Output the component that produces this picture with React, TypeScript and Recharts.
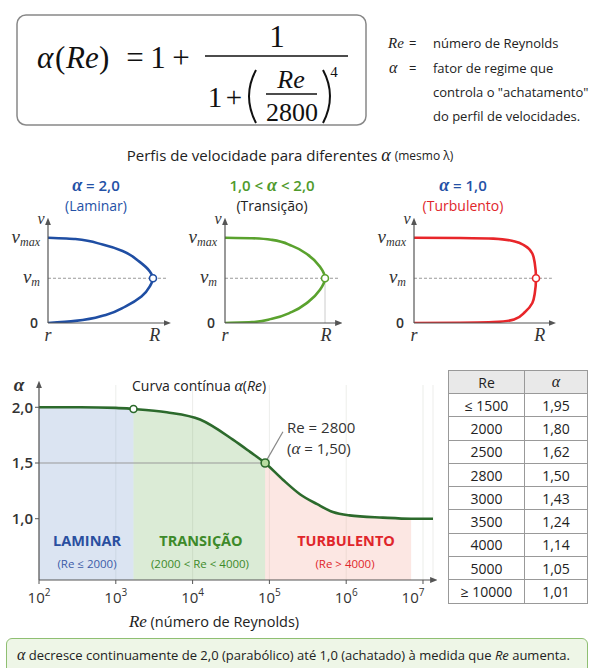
import React from 'react';
import {
  ComposedChart,
  LineChart,
  Line,
  Area,
  XAxis,
  YAxis,
  CartesianGrid,
  ReferenceLine,
  ReferenceDot,
} from 'recharts';

// main curve alpha(Re) (x axis as drawn)
const reValues = [100, 350, 1000, 1700, 4600, 12500, 33500, 56000, 88000, 150000, 250000, 420000, 670000, 1100000, 3000000, 7000000, 13500000];
const alphaValues = [2.0, 2.0, 1.995, 1.985, 1.955, 1.89, 1.71, 1.6, 1.5, 1.35, 1.22, 1.13, 1.06, 1.03, 1.01, 1.0, 1.0];
const reTicks = [100, 1000, 10000, 100000, 1000000, 10000000];
const alphaTicks = [1.0, 1.5, 2.0];
const laminarEnd = 1700;
const transitionEnd = 88000;
const turbulentEnd = 7000000;
const laminarMark = { re: 1700, alpha: 1.985 };
const re2800Mark = { re: 88000, alpha: 1.5 };
const leader = [{ x: 93000, y: 1.53 }, { x: 150000, y: 1.78 }];

// table
const tableRe = ['≤ 1500', '2000', '2500', '2800', '3000', '3500', '4000', '5000', '≥ 10000'];
const tableAlpha = ['1,95', '1,80', '1,62', '1,50', '1,43', '1,24', '1,14', '1,05', '1,01'];

// velocity profiles: r / R and v (vmax = 2, vm = 1.05)
const vMax = 2.0;
const vMean = 1.05;
const lamR = [0, 0.26, 0.52, 0.71, 0.87, 0.97, 1.0, 0.97, 0.89, 0.74, 0.55, 0.26, 0];
const lamV = [2.0, 1.97, 1.84, 1.69, 1.44, 1.21, 1.05, 0.86, 0.62, 0.39, 0.19, 0.05, 0];
const traR = [0, 0.27, 0.47, 0.67, 0.83, 0.95, 1.0, 0.95, 0.83, 0.67, 0.47, 0.27, 0];
const traV = [2.0, 1.99, 1.95, 1.81, 1.6, 1.32, 1.05, 0.78, 0.49, 0.26, 0.1, 0.02, 0];
const turR = [0, 0.38, 0.65, 0.82, 0.91, 0.97, 0.99, 1.0, 0.99, 0.97, 0.91, 0.82, 0.65, 0.38, 0];
const turV = [2.0, 1.995, 1.98, 1.92, 1.81, 1.63, 1.4, 1.05, 0.7, 0.47, 0.26, 0.08, 0.02, 0.005, 0];

const curveData = reValues.map((re, i) => ({
  re,
  alpha: alphaValues[i],
  lam: re <= laminarEnd ? alphaValues[i] : null,
  tra: re >= laminarEnd && re <= transitionEnd ? alphaValues[i] : null,
  tur: re >= transitionEnd && re <= turbulentEnd ? alphaValues[i] : null,
}));

const zip = (rs: number[], vs: number[]) => rs.map((r, i) => ({ r, v: vs[i] }));

const SANS = '"Open Sans", sans-serif';
const SERIF = '"Liberation Serif", "DejaVu Serif", serif';
const AXIS = '#555';

const LogTick = (props: any) => {
  const { x, y, payload } = props;
  const exp = Math.round(Math.log10(payload.value));
  return (
    <text x={x} y={y + 17} textAnchor="middle" fontFamily={SANS} fontSize={15} fill="#333">
      10
      <tspan dy={-7} fontSize={10}>{exp}</tspan>
    </text>
  );
};

const VTick = (props: any) => {
  const { x, y, payload } = props;
  const v = payload.value;
  if (v === 0) {
    return (
      <text x={x - 2} y={y + 5} textAnchor="end" fontFamily={SANS} fontSize={14} fontWeight={600} fill="#333">0</text>
    );
  }
  const sub = v === vMax ? 'max' : 'm';
  return (
    <text x={x} y={y + 5} textAnchor="end" fontFamily={SERIF} fontStyle="italic" fontSize={19} fill="#333">
      v<tspan fontSize={12} dy={3}>{sub}</tspan>
    </text>
  );
};

const RTick = (props: any) => {
  const { x, y, payload } = props;
  return (
    <text x={x} y={y + 10} textAnchor="middle" fontFamily={SERIF} fontStyle="italic" fontSize={18} fill="#333">
      {payload.value === 0 ? 'r' : 'R'}
    </text>
  );
};

type ProfileProps = { axisX: number; unitW: number; data: { r: number; v: number }[]; color: string; drop?: boolean };

const ProfileChart = ({ axisX, unitW, data, color, drop }: ProfileProps) => {
  const xMax = 1.13;
  const w = 40 + xMax * unitW + 6;
  return (
    <div style={{ position: 'absolute', left: axisX - 40, top: 205 }}>
      <LineChart width={w} height={148} data={data} margin={{ top: 17, right: 6, left: 0, bottom: 0 }}>
        <XAxis
          dataKey="r"
          type="number"
          domain={[0, xMax]}
          ticks={[0, 1.055]}
          tick={<RTick />}
          tickLine={false}
          height={30}
          allowDataOverflow
          axisLine={{ stroke: AXIS, strokeWidth: 1.2, markerEnd: 'url(#arrowHead)' }}
        />
        <YAxis
          type="number"
          domain={[0, 2.37]}
          ticks={[0, vMean, vMax]}
          tick={<VTick />}
          tickLine={false}
          width={40}
          allowDataOverflow
          axisLine={{ stroke: AXIS, strokeWidth: 1.2, markerStart: 'url(#arrowHead)' }}
        />
        <ReferenceLine y={vMean} stroke="#999" strokeDasharray="3 2" />
        {drop && (
          <ReferenceLine segment={[{ x: 1, y: 0 }, { x: 1, y: vMean }]} stroke="#ccc" strokeWidth={1} />
        )}
        <Line
          type="monotoneY"
          dataKey="v"
          stroke={color}
          strokeWidth={2.6}
          dot={false}
          isAnimationActive={false}
        />
        <ReferenceDot x={1} y={vMean} r={3.5} fill="#fff" stroke={color} strokeWidth={1.6} />
      </LineChart>
    </div>
  );
};

const Txt = ({ x, y, children, size = 14, anchor = 'middle', color = '#222', weight = 400, family = SANS, italic = false }: any) => (
  <text
    x={x}
    y={y}
    textAnchor={anchor}
    dominantBaseline="central"
    fontSize={size}
    fill={color}
    fontWeight={weight}
    fontFamily={family}
    fontStyle={italic ? 'italic' : 'normal'}
  >
    {children}
  </text>
);

export default function App() {
  const blue = '#2451a6';
  const green = '#4f9a2c';
  const red = '#e0262b';
  const dark = '#2c6a2c';
  return (
    <div style={{ position: 'absolute', left: 0, top: 0, width: 593, height: 668, overflow: 'hidden', background: '#fff' }}>
      <svg width={0} height={0} style={{ position: 'absolute' }}>
        <defs>
          <marker id="arrowHead" viewBox="0 0 10 10" refX="4" refY="5" markerWidth="6" markerHeight="6" orient="auto-start-reverse">
            <path d="M0,1 L10,5 L0,9 z" fill={AXIS} />
          </marker>
        </defs>
      </svg>

      {/* formula box */}
      <svg width={593} height={140} style={{ position: 'absolute', left: 0, top: 0 }}>
        <rect x={17} y={15} width={349} height={110} rx={9} fill="#fff" stroke="#888" strokeWidth={1.5} />
        <text y={68} fontFamily={SERIF} fontSize={31} fill="#111">
          <tspan x={37} fontStyle="italic">α</tspan>
          <tspan x={55}>(</tspan>
          <tspan x={66} fontStyle="italic">Re</tspan>
          <tspan x={99}>)</tspan>
        </text>
        <text x={135} y={68} textAnchor="middle" fontFamily={SERIF} fontSize={31} fill="#111">=</text>
        <text x={158} y={68} textAnchor="middle" fontFamily={SERIF} fontSize={31} fill="#111">1</text>
        <text x={181} y={68} textAnchor="middle" fontFamily={SERIF} fontSize={31} fill="#111">+</text>
        <line x1={205} x2={348} y1={56} y2={56} stroke="#111" strokeWidth={1.6} />
        <text x={277} y={47} textAnchor="middle" fontFamily={SERIF} fontSize={31} fill="#111">1</text>
        <text x={215} y={107} textAnchor="middle" fontFamily={SERIF} fontSize={29} fill="#111">1</text>
        <text x={234} y={107} textAnchor="middle" fontFamily={SERIF} fontSize={29} fill="#111">+</text>
        <path d="M256 70 Q242 96 256 123" fill="none" stroke="#111" strokeWidth={2} />
        <path d="M323 70 Q337 96 323 123" fill="none" stroke="#111" strokeWidth={2} />
        <text x={291} y={88} textAnchor="middle" fontFamily={SERIF} fontStyle="italic" fontSize={26} fill="#111">Re</text>
        <line x1={266} x2={317} y1={94} y2={94} stroke="#111" strokeWidth={1.4} />
        <text x={292} y={121} textAnchor="middle" fontFamily={SERIF} fontSize={26} fill="#111">2800</text>
        <text x={334} y={77} textAnchor="middle" fontFamily={SERIF} fontSize={15} fill="#111">4</text>

        <text x={388} y={48} fontFamily={SERIF} fontStyle="italic" fontSize={15} fill="#222">Re</text>
        <text x={409} y={48} fontFamily={SANS} fontSize={13} fill="#222">=</text>
        <text x={433} y={48} fontFamily={SANS} fontSize={13} fill="#222">número de Reynolds</text>
        <text x={389} y={73} fontFamily={SERIF} fontStyle="italic" fontSize={16} fill="#222">α</text>
        <text x={409} y={73} fontFamily={SANS} fontSize={13} fill="#222">=</text>
        <text x={433} y={73} fontFamily={SANS} fontSize={13} fill="#222">fator de regime que</text>
        <text x={433} y={97} fontFamily={SANS} fontSize={13} fill="#222">controla o "achatamento"</text>
        <text x={433} y={121} fontFamily={SANS} fontSize={13} fill="#222">do perfil de velocidades.</text>
      </svg>

      {/* profile charts */}
      <ProfileChart axisX={48} unitW={105} data={zip(lamR, lamV)} color="#1f4ea3" />
      <ProfileChart axisX={225} unitW={100} data={zip(traR, traV)} color="#5aa22e" drop />
      <ProfileChart axisX={414} unitW={122} data={zip(turR, turV)} color="#e8262a" />

      {/* main chart */}
      <div style={{ position: 'absolute', left: 0, top: 360 }}>
        <ComposedChart width={445} height={280} data={curveData} margin={{ top: 25, right: 12, left: 0, bottom: 0 }}>
          <CartesianGrid vertical horizontal={false} stroke="#d4d8d0" strokeOpacity={0.45} />
          <XAxis
            dataKey="re"
            type="number"
            scale="log"
            domain={[100, 13500000]}
            ticks={reTicks}
            tick={<LogTick />}
            tickSize={4}
            tickLine={{ stroke: AXIS }}
            height={60}
            allowDataOverflow
            axisLine={{ stroke: AXIS, strokeWidth: 1.2, markerEnd: 'url(#arrowHead)' }}
          />
          <YAxis
            type="number"
            domain={[0.45, 2.2]}
            ticks={alphaTicks}
            tickFormatter={(v: number) => v.toFixed(1).replace('.', ',')}
            tick={{ fontSize: 15, fill: '#333', fontWeight: 600, fontFamily: SANS }}
            tickSize={4}
            tickLine={{ stroke: AXIS }}
            width={39}
            allowDataOverflow
            axisLine={{ stroke: AXIS, strokeWidth: 1.2, markerStart: 'url(#arrowHead)' }}
          />
          <Area type="monotone" dataKey="lam" baseValue="dataMin" stroke="none" fill="#7f9fd0" fillOpacity={0.28} isAnimationActive={false} />
          <Area type="monotone" dataKey="tra" baseValue="dataMin" stroke="none" fill="#7fb86a" fillOpacity={0.28} isAnimationActive={false} />
          <Area type="monotone" dataKey="tur" baseValue="dataMin" stroke="none" fill="#f5a090" fillOpacity={0.25} isAnimationActive={false} />
          <ReferenceLine segment={[{ x: 100, y: 1.5 }, { x: re2800Mark.re, y: 1.5 }]} stroke="#999" strokeWidth={1} />
          <ReferenceLine segment={leader} stroke="#888" strokeWidth={1.2} />
          <Line type="monotone" dataKey="alpha" stroke={dark} strokeWidth={2.6} dot={false} isAnimationActive={false} />
          <ReferenceDot x={laminarMark.re} y={laminarMark.alpha} r={3.5} fill="#fff" stroke={dark} strokeWidth={1.6} />
          <ReferenceDot x={re2800Mark.re} y={re2800Mark.alpha} r={4} fill="#b8dca0" stroke={dark} strokeWidth={1.6} />
        </ComposedChart>
      </div>

      {/* texts */}
      <svg width={593} height={668} style={{ position: 'absolute', left: 0, top: 0, pointerEvents: 'none' }}>
        <text x={290} y={155} textAnchor="middle" dominantBaseline="central" fontFamily={SANS} fontSize={15} fill="#222">
          Perfis de velocidade para diferentes <tspan fontFamily={SERIF} fontStyle="italic" fontSize={18}>α</tspan>{' '}
          <tspan fontSize={12}>(mesmo λ)</tspan>
        </text>
        <text x={96} y={185} textAnchor="middle" dominantBaseline="central" fontFamily={SANS} fontSize={15} fill={blue} fontWeight={600}>
          <tspan fontFamily={SERIF} fontStyle="italic" fontSize={18}>α</tspan> = 2,0
        </text>
        <Txt x={96} y={205} size={14} color={blue}>(Laminar)</Txt>
        <text x={272} y={185} textAnchor="middle" dominantBaseline="central" fontFamily={SANS} fontSize={15} fill={green} fontWeight={600}>
          1,0 &lt; <tspan fontFamily={SERIF} fontStyle="italic" fontSize={18}>α</tspan> &lt; 2,0
        </text>
        <Txt x={272} y={205} size={14} color="#222">(Transição)</Txt>
        <text x={463} y={185} textAnchor="middle" dominantBaseline="central" fontFamily={SANS} fontSize={15} fill={blue} fontWeight={600}>
          <tspan fontFamily={SERIF} fontStyle="italic" fontSize={18}>α</tspan> = 1,0
        </text>
        <Txt x={463} y={205} size={14} color={red}>(Turbulento)</Txt>
        <Txt x={41} y={218} size={16} family={SERIF} italic color="#333">v</Txt>
        <Txt x={218} y={218} size={16} family={SERIF} italic color="#333">v</Txt>
        <Txt x={407} y={218} size={16} family={SERIF} italic color="#333">v</Txt>

        <Txt x={19} y={384} size={19} family={SERIF} italic weight={700} color="#333">α</Txt>
        <text x={132} y={385} dominantBaseline="central" fontFamily={SANS} fontSize={14} fill="#222">
          Curva contínua <tspan fontFamily={SERIF} fontStyle="italic" fontSize={16}>α</tspan>(<tspan fontStyle="italic">Re</tspan>)
        </text>
        <Txt x={287} y={427} size={15} anchor="start" color="#333">Re = 2800</Txt>
        <text x={287} y={448} dominantBaseline="central" fontFamily={SANS} fontSize={15} fill="#333">
          (<tspan fontFamily={SERIF} fontStyle="italic" fontSize={17}>α</tspan> = 1,50)
        </text>
        <Txt x={87} y={540} size={14.5} weight={700} color="#2a4fa0">LAMINAR</Txt>
        <Txt x={87} y={563} size={11.5} color="#3b5ca8">(Re ≤ 2000)</Txt>
        <Txt x={201} y={540} size={14.5} weight={700} color="#3d8a2a">TRANSIÇÃO</Txt>
        <Txt x={200} y={563} size={11.5} color="#3d8a2a">(2000 &lt; Re &lt; 4000)</Txt>
        <Txt x={346} y={540} size={14.5} weight={700} color={red}>TURBULENTO</Txt>
        <Txt x={345} y={563} size={11.5} color={red}>(Re &gt; 4000)</Txt>
        <text x={214} y={621} textAnchor="middle" dominantBaseline="central" fontFamily={SANS} fontSize={14.5} fill="#222">
          <tspan fontFamily={SERIF} fontStyle="italic" fontSize={17}>Re</tspan> (número de Reynolds)
        </text>
      </svg>

      {/* table */}
      <table
        style={{
          position: 'absolute',
          left: 448,
          top: 370,
          width: 140,
          borderCollapse: 'collapse',
          fontFamily: SANS,
          fontSize: 14,
          color: '#222',
          textAlign: 'center',
        }}
      >
        <tbody>
          <tr style={{ height: 23, background: '#e9e9e9' }}>
            <td style={{ border: '1px solid #999', width: 75, padding: 0 }}>Re</td>
            <td style={{ border: '1px solid #999', padding: 0, fontFamily: SERIF, fontStyle: 'italic', fontSize: 16 }}>α</td>
          </tr>
          {tableRe.map((re, i) => (
            <tr key={re} style={{ height: 23.3 }}>
              <td style={{ border: '1px solid #999', padding: 0 }}>{re}</td>
              <td style={{ border: '1px solid #999', padding: 0 }}>{tableAlpha[i]}</td>
            </tr>
          ))}
        </tbody>
      </table>

      {/* footer */}
      <div
        style={{
          position: 'absolute',
          left: 6,
          top: 638,
          width: 582,
          height: 40,
          boxSizing: 'border-box',
          background: '#eef6e7',
          border: '1.5px solid #8fbf72',
          borderRadius: 6,
          fontFamily: SANS,
          fontSize: 13,
          color: '#222',
          padding: '7px 0 0 10px',
          whiteSpace: 'nowrap',
        }}
      >
        <span style={{ fontFamily: SERIF, fontStyle: 'italic', fontSize: 16 }}>α</span> decresce continuamente de 2,0 (parabólico) até 1,0 (achatado) à medida que <i>Re</i> aumenta.
      </div>
    </div>
  );
}
